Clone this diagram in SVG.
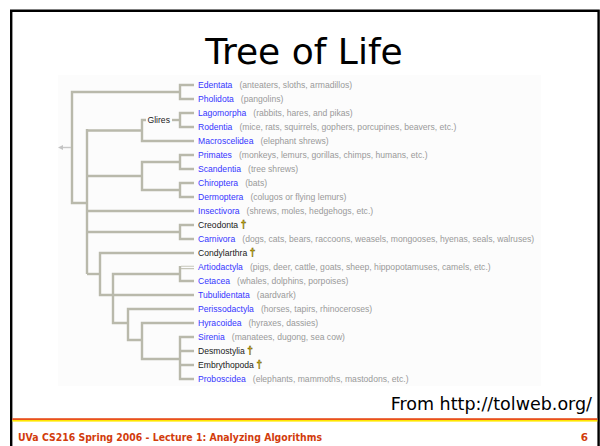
<svg xmlns="http://www.w3.org/2000/svg" width="600" height="446" viewBox="0 0 600 446">
<style>
.t{font-family:"Liberation Sans",Arial,sans-serif;font-size:8.6px}
.b{fill:#3535ff}
.k{fill:#1a1a1a}
.g{fill:#9a9a9a}
.d{fill:#e8c800;stroke:#5a4a00;stroke-width:0.4px;font-weight:bold;font-size:10px}
.ln{fill:none;stroke:#b9b9ab;stroke-width:2.4;stroke-linejoin:miter}
</style>
<rect x="0" y="0" width="600" height="446" fill="#ffffff"/>
<rect x="58" y="75" width="483" height="311" fill="#fcfcfc"/>
<path d="M11.2 446 V10.8 H598.6 V446" fill="none" stroke="#000" stroke-width="2.4"/>
<text x="304" y="64" text-anchor="middle" font-family="DejaVu Sans,Verdana,sans-serif" font-size="36" fill="#000">Tree of Life</text>

<g id="connectors">
<path class="ln" d="M180 92 H72 V203 H87"/>
<path d="M58 147.5 L63 145 L63 150 Z" fill="#c4c4c4"/>
<path d="M63 147.5 H71" stroke="#c8c8c8" stroke-width="1.4" fill="none"/>
<path class="ln" d="M194 85 H180 V99 H194"/>
<path class="ln" d="M87 129 V274"/>
<path class="ln" d="M87 130.5 H142"/>
<path class="ln" d="M146 120 H142 V141 H194"/>
<path class="ln" d="M172 120 H180"/>
<path class="ln" d="M194 113 H180 V127 H194"/>
<path class="ln" d="M87 176 H142"/>
<path class="ln" d="M180 162 H142 V190 H180"/>
<path class="ln" d="M194 155 H180 V169 H194"/>
<path class="ln" d="M194 183 H180 V197 H194"/>
<path class="ln" d="M87 211 H194"/>
<path class="ln" d="M87 232 H180"/>
<path class="ln" d="M194 225 H180 V239 H194"/>
<path class="ln" d="M87 274 H100"/>
<path class="ln" d="M194 253 H100 V295 H194"/>
<path class="ln" d="M180 274 H113 V323 H128"/>
<path class="ln" d="M180 266 V281 H194"/>
<path d="M181 266.2 H194 M181 268.6 H194" stroke="#c6c6ba" stroke-width="1.1" fill="none"/>
<path class="ln" d="M194 309 H128 V340 H142"/>
<path class="ln" d="M194 323 H142 V359 H180"/>
<path class="ln" d="M194 337 H180 V379 H194"/>
<path class="ln" d="M180 351 H194 M180 365 H194"/>
</g>

<g id="glires"><text class="t k" x="147.5" y="123">Glires</text></g>

<g id="edentata"><text class="t" x="198" y="88"><tspan class="b">Edentata</tspan><tspan class="g" dx="7">(anteaters, sloths, armadillos)</tspan></text></g>
<g id="pholidota"><text class="t" x="198" y="102"><tspan class="b">Pholidota</tspan><tspan class="g" dx="7">(pangolins)</tspan></text></g>
<g id="lagomorpha"><text class="t" x="198" y="116"><tspan class="b">Lagomorpha</tspan><tspan class="g" dx="7">(rabbits, hares, and pikas)</tspan></text></g>
<g id="rodentia"><text class="t" x="198" y="130"><tspan class="b">Rodentia</tspan><tspan class="g" dx="7">(mice, rats, squirrels, gophers, porcupines, beavers, etc.)</tspan></text></g>
<g id="macroscelidea"><text class="t" x="198" y="144"><tspan class="b">Macroscelidea</tspan><tspan class="g" dx="7">(elephant shrews)</tspan></text></g>
<g id="primates"><text class="t" x="198" y="158"><tspan class="b">Primates</tspan><tspan class="g" dx="7">(monkeys, lemurs, gorillas, chimps, humans, etc.)</tspan></text></g>
<g id="scandentia"><text class="t" x="198" y="172"><tspan class="b">Scandentia</tspan><tspan class="g" dx="7">(tree shrews)</tspan></text></g>
<g id="chiroptera"><text class="t" x="198" y="186"><tspan class="b">Chiroptera</tspan><tspan class="g" dx="7">(bats)</tspan></text></g>
<g id="dermoptera"><text class="t" x="198" y="200"><tspan class="b">Dermoptera</tspan><tspan class="g" dx="7">(colugos or flying lemurs)</tspan></text></g>
<g id="insectivora"><text class="t" x="198" y="214"><tspan class="b">Insectivora</tspan><tspan class="g" dx="7">(shrews, moles, hedgehogs, etc.)</tspan></text></g>
<g id="creodonta"><text class="t" x="198" y="228"><tspan class="k">Creodonta</tspan><tspan class="d" dx="2.5">†</tspan></text></g>
<g id="carnivora"><text class="t" x="198" y="242"><tspan class="b">Carnivora</tspan><tspan class="g" dx="7">(dogs, cats, bears, raccoons, weasels, mongooses, hyenas, seals, walruses)</tspan></text></g>
<g id="condylarthra"><text class="t" x="198" y="256"><tspan class="k">Condylarthra</tspan><tspan class="d" dx="2.5">†</tspan></text></g>
<g id="artiodactyla"><text class="t" x="198" y="270"><tspan class="b">Artiodactyla</tspan><tspan class="g" dx="7">(pigs, deer, cattle, goats, sheep, hippopotamuses, camels, etc.)</tspan></text></g>
<g id="cetacea"><text class="t" x="198" y="284"><tspan class="b">Cetacea</tspan><tspan class="g" dx="7">(whales, dolphins, porpoises)</tspan></text></g>
<g id="tubulidentata"><text class="t" x="198" y="298"><tspan class="b">Tubulidentata</tspan><tspan class="g" dx="7">(aardvark)</tspan></text></g>
<g id="perissodactyla"><text class="t" x="198" y="312"><tspan class="b">Perissodactyla</tspan><tspan class="g" dx="7">(horses, tapirs, rhinoceroses)</tspan></text></g>
<g id="hyracoidea"><text class="t" x="198" y="326"><tspan class="b">Hyracoidea</tspan><tspan class="g" dx="7">(hyraxes, dassies)</tspan></text></g>
<g id="sirenia"><text class="t" x="198" y="340"><tspan class="b">Sirenia</tspan><tspan class="g" dx="7">(manatees, dugong, sea cow)</tspan></text></g>
<g id="desmostylia"><text class="t" x="198" y="354"><tspan class="k">Desmostylia</tspan><tspan class="d" dx="2.5">†</tspan></text></g>
<g id="embrythopoda"><text class="t" x="198" y="368"><tspan class="k">Embrythopoda</tspan><tspan class="d" dx="2.5">†</tspan></text></g>
<g id="proboscidea"><text class="t" x="198" y="382"><tspan class="b">Proboscidea</tspan><tspan class="g" dx="7">(elephants, mammoths, mastodons, etc.)</tspan></text></g>

<text x="592" y="410" text-anchor="end" font-family="DejaVu Sans,Verdana,sans-serif" font-size="17.5" fill="#000">From http://tolweb.org/</text>

<rect x="12.4" y="418.2" width="585" height="1.8" fill="#e8501c"/>
<rect x="12.4" y="420" width="585" height="1.6" fill="#ffe600"/>
<text x="18" y="441" font-family="DejaVu Sans,Verdana,sans-serif" font-size="10.5" font-weight="bold" fill="#d23c0c" textLength="304" lengthAdjust="spacingAndGlyphs">UVa CS216 Spring 2006 - Lecture 1: Analyzing Algorithms</text>
<text x="588" y="441" text-anchor="end" font-family="DejaVu Sans,Verdana,sans-serif" font-size="10.5" font-weight="bold" fill="#d23c0c">6</text>
</svg>
